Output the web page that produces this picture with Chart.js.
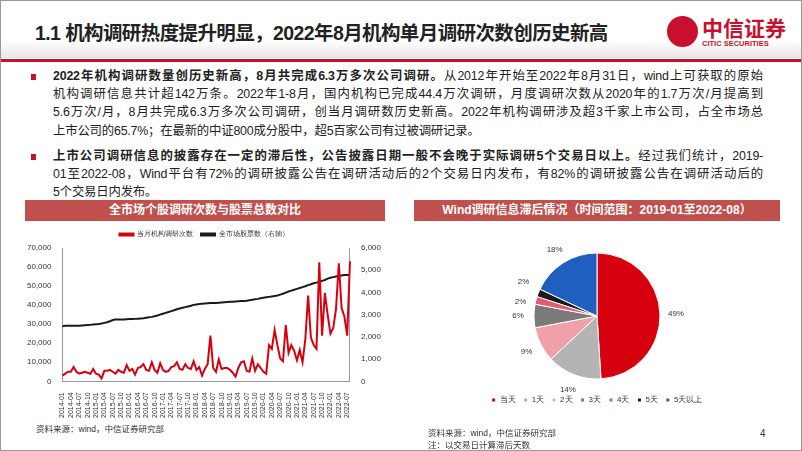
<!DOCTYPE html>
<html lang="zh">
<head>
<meta charset="UTF-8">
<title>机构调研</title>
<script src="https://cdn.jsdelivr.net/npm/chart.js"></script>
<style>
  body { margin:0; width:802px; height:451px; overflow:hidden; background:#fff;
         font-family:"Liberation Sans","Noto Sans CJK SC",sans-serif; position:relative; }
  .frame { position:absolute; left:0; top:0; width:800px; height:449px; border:1px solid #999; }
  .header { position:absolute; left:0; top:0; width:802px; height:58px;
            background:linear-gradient(#fff 70%, #e6e6e6); }
  .redline { position:absolute; left:0; top:59px; width:802px; height:3px; background:#c8102e; }
  h1 { position:absolute; left:35px; top:17px; margin:0; font-size:19.5px; font-weight:bold; color:#222; letter-spacing:-0.6px; white-space:nowrap; }
  .logo { position:absolute; left:667px; top:16px; }
  .logo .c { position:absolute; left:0; top:0; width:31px; height:31px; border-radius:50%; background:#c8102e; }
  .logo .n { position:absolute; left:35px; top:-4px; font-size:21px; font-weight:bold; color:#c8102e; white-space:nowrap; font-family:"Noto Sans CJK SC"; }
  .logo .e { position:absolute; left:35px; top:23px; font-size:7.5px; color:#c8102e; white-space:nowrap; font-weight:bold; }
  .text { position:absolute; left:53px; top:67px; width:710px; font-size:12.4px; line-height:18.2px; color:#222; }
  .text p { margin:0 0 7px 0; position:relative; }
  .text p:before { content:""; position:absolute; left:-22px; top:7px; width:5px; height:6px; background:#c8102e; }
  .text span.l { display:block; text-align:justify; text-align-last:justify; white-space:nowrap; letter-spacing:-0.2px; }
  .text span.last { text-align-last:left; }
  .bar { position:absolute; height:21px; background:#c0504d; color:#fff; font-weight:bold; font-size:12px; text-align:center; line-height:21px; }
  .src { position:absolute; font-size:8.5px; color:#333; line-height:12px; }
  .box { position:absolute; }
</style>
</head>
<body>
<div class="header"></div>
<div class="redline"></div>
<h1>1.1 机构调研热度提升明显，2022年8月机构单月调研次数创历史新高</h1>
<div class="logo"><div class="c"></div><div class="n">中信证券</div><div class="e">CITIC SECURITIES</div></div>
<div class="text">
  <p>
    <span class="l"><b>2022年机构调研数量创历史新高，8月共完成6.3万多次公司调研。</b>从2012年开始至2022年8月31日，wind上可获取的原始</span>
    <span class="l">机构调研信息共计超142万条。2022年1-8月，国内机构已完成44.4万次调研，月度调研次数从2020年的1.7万次/月提高到</span>
    <span class="l">5.6万次/月，8月共完成6.3万多次公司调研，创当月调研数历史新高。2022年机构调研涉及超3千家上市公司，占全市场总</span>
    <span class="l last">上市公司的65.7%；在最新的中证800成分股中，超5百家公司有过被调研记录。</span>
  </p>
  <p>
    <span class="l"><b>上市公司调研信息的披露存在一定的滞后性，公告披露日期一般不会晚于实际调研5个交易日以上。</b>经过我们统计，2019-</span>
    <span class="l">01至2022-08，Wind平台有72%的调研披露公告在调研活动后的2个交易日内发布，有82%的调研披露公告在调研活动后的</span>
    <span class="l last">5个交易日内发布。</span>
  </p>
</div>
<div class="bar" style="left:25px;top:200px;width:360px;">全市场个股调研次数与股票总数对比</div>
<div class="bar" style="left:414px;top:200px;width:366px;">Wind调研信息滞后情况（时间范围：2019-01至2022-08）</div>
<div class="box" style="left:22px;top:223px;width:366px;height:198px;"><canvas id="lineChart"></canvas></div>
<div class="box" style="left:414px;top:226px;width:366px;height:188px;"><canvas id="pieChart"></canvas></div>
<div class="src" style="left:36px;top:423px;">资料来源：wind，中信证券研究部</div>
<div class="src" style="left:428px;top:427px;">资料来源：wind，中信证券研究部<br>注：以交易日计算滞后天数</div>
<div class="src" style="left:760px;top:428px;font-size:10px;">4</div>
<div class="frame"></div>

<script>
// monthly 2014-01 .. 2022-08
const months = [];
for (let y = 2014; y <= 2022; y++) {
  for (let m = 1; m <= 12; m++) {
    if (y === 2022 && m > 8) break;
    months.push(y + '-' + String(m).padStart(2, '0'));
  }
}

const surveyCount = [
  3000,4000,5000,5000,7500,5000,4000,4500,5000,4500,4000,6500,
  4000,3500,1500,5500,5500,6000,5000,4000,6000,5000,4500,8500,
  5500,6500,3500,7000,7500,9000,6000,5500,10000,6000,4500,9500,
  6000,5000,5500,7500,8000,10000,6500,6000,9000,7000,6500,10500,
  6000,7500,3000,6500,9000,24000,7000,5000,11500,6500,7000,7000,
  6000,4500,2500,7000,10000,10500,5500,5000,12000,5500,9000,7000,
  5000,4000,19000,17000,27000,19000,12000,10500,29500,15000,19000,16000,
  11000,16500,10000,22000,45000,23000,19000,17000,62500,24000,46500,35000,
  25000,28000,38000,62000,38500,34000,24000,63000
];

const stockCount = [
  2480,2500,2500,2500,2500,2500,2500,2510,2520,2530,2540,2560,
  2570,2580,2600,2630,2660,2700,2760,2780,2780,2780,2780,2790,
  2800,2800,2810,2820,2830,2840,2860,2880,2900,2930,2960,3000,
  3040,3080,3120,3160,3200,3240,3280,3310,3340,3370,3400,3440,
  3460,3480,3490,3500,3510,3520,3520,3530,3540,3550,3560,3570,
  3580,3580,3590,3600,3610,3620,3630,3650,3670,3690,3710,3740,
  3760,3780,3800,3820,3840,3860,3900,3940,3990,4040,4080,4120,
  4160,4200,4240,4280,4330,4370,4410,4440,4480,4520,4560,4620,
  4660,4690,4720,4740,4760,4780,4790,4800
];

const lagLabels = ['当天', '1天', '2天', '3天', '4天', '5天', '5天以上'];
const lagShares = [49, 14, 9, 6, 2, 2, 18];
const lagColors = ['#d7000f', '#b4b4b4', '#f0a0a8', '#7a7a7a', '#e65a6e', '#1a1a1a', '#1f5fbf'];

const small = { size: 8, family: 'Liberation Sans, Noto Sans CJK SC' };

new Chart(document.getElementById('lineChart'), {
  type: 'line',
  data: {
    labels: months,
    datasets: [
      { label: '当月机构调研次数', data: surveyCount, borderColor: '#d7000f', borderWidth: 2,
        pointRadius: 0, yAxisID: 'y', tension: 0 },
      { label: '全市场股票数（右轴）', data: stockCount, borderColor: '#1a1a1a', borderWidth: 2,
        pointRadius: 0, yAxisID: 'y1', tension: 0 }
    ]
  },
  options: {
    responsive: true, maintainAspectRatio: false, animation: false,
    layout: { padding: { left: 2, right: 4 } },
    plugins: {
      legend: { labels: { boxWidth: 14, boxHeight: 2, font: { size: 7 }, color: '#333', padding: 8 } },
      tooltip: { enabled: false }
    },
    scales: {
      x: {
        grid: { display: false }, border: { color: '#999' },
        ticks: { autoSkip: false, maxRotation: 90, minRotation: 90, font: { size: 7 }, color: '#333',
          callback: (v, i) => i % 3 === 0 ? months[i] : '' }
      },
      y: {
        min: 0, max: 70000, grid: { display: false }, border: { color: '#999' },
        ticks: { stepSize: 10000, font: small, color: '#333', callback: v => v.toLocaleString('en-US') }
      },
      y1: {
        position: 'right', min: 0, max: 6000, grid: { display: false }, border: { color: '#999' },
        ticks: { stepSize: 1000, font: small, color: '#333', callback: v => v.toLocaleString('en-US') }
      }
    }
  }
});

const pieLabels = {
  id: 'pieLabels',
  afterDatasetsDraw(chart) {
    const ctx = chart.ctx;
    const meta = chart.getDatasetMeta(0);
    ctx.save();
    ctx.font = '8px Liberation Sans';
    ctx.fillStyle = '#333';
    ctx.textAlign = 'center';
    ctx.textBaseline = 'middle';
    const nudge = [0, 0, 0, 0, 5, -5, 0];
    meta.data.forEach((arc, i) => {
      const mid = (arc.startAngle + arc.endAngle) / 2;
      const r = arc.outerRadius + 16;
      const x = arc.x + Math.cos(mid) * r;
      const y = arc.y + Math.sin(mid) * r + nudge[i];
      ctx.fillText(lagShares[i] + '%', x, y);
    });
    ctx.restore();
  }
};

new Chart(document.getElementById('pieChart'), {
  type: 'pie',
  data: {
    labels: lagLabels,
    datasets: [{ data: lagShares, backgroundColor: lagColors, borderColor: '#fff', borderWidth: 1 }]
  },
  options: {
    responsive: true, maintainAspectRatio: false, animation: false,
    layout: { padding: { top: 18, bottom: 0 } },
    radius: 63,
    plugins: {
      legend: { position: 'bottom',
        labels: { usePointStyle: true, pointStyle: 'rect', boxWidth: 4, boxHeight: 4, font: { size: 8 }, color: '#333', padding: 8 } },
      tooltip: { enabled: false }
    }
  },
  plugins: [pieLabels]
});
</script>
</body>
</html>
